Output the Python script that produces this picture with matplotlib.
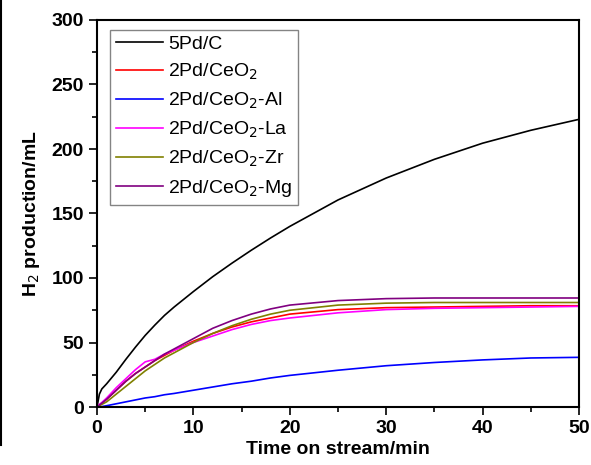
import matplotlib.pyplot as plt
import numpy as np
from matplotlib.lines import Line2D
from matplotlib.ticker import MultipleLocator

plt.rcParams['font.family'] = ['Liberation Sans', 'DejaVu Sans']

t = np.array([0, 0.25, 0.5, 1, 2, 3, 4, 5, 6, 7, 8, 10, 12, 14, 16, 18, 20,
              25, 30, 35, 40, 45, 50])

pd_c = np.array([0, 10, 14, 18, 27, 37, 46.5, 55.5, 63.5, 71, 77.5, 89.5, 101,
                 111.5, 121.5, 131, 140, 160.5, 177.5, 192, 204.5, 214.5, 223])
pd_ceo2 = np.array([0, 1.5, 3, 6, 13, 20, 26, 31, 36, 40, 44, 51, 57, 62,
                    66, 69, 72, 75.5, 77, 77.5, 78, 78.5, 78.5])
pd_ceo2_al = np.array([0, 0, 0.3, 1, 2.5, 4, 5.5, 7, 8, 9.5, 10.5, 13, 15.5,
                       18, 20, 22.5, 24.5, 28.5, 32, 34.5, 36.5, 38, 38.5])
pd_ceo2_la = np.array([0, 2, 3.5, 7, 15, 22, 29, 35, 37, 41, 44, 50, 55, 60,
                       64, 67, 69, 73, 75.5, 76.5, 77, 77.5, 78])
pd_ceo2_zr = np.array([0, 1, 2, 4, 10, 16, 22, 28, 33, 38, 42, 50, 57, 63,
                       68, 72, 75, 79, 80.5, 81, 81, 81, 81])
pd_ceo2_mg = np.array([0, 1.5, 3, 6, 13, 20, 26, 31, 36, 41, 45, 53, 61, 67,
                       72, 76, 79, 82.5, 84, 84.5, 84.5, 84.5, 84.5])

series = [
    (pd_c, 'black', '5Pd/C'),
    (pd_ceo2, 'red', '2Pd/CeO$_2$'),
    (pd_ceo2_al, 'blue', '2Pd/CeO$_2$-Al'),
    (pd_ceo2_la, 'magenta', '2Pd/CeO$_2$-La'),
    (pd_ceo2_zr, '#808000', '2Pd/CeO$_2$-Zr'),
    (pd_ceo2_mg, '#800080', '2Pd/CeO$_2$-Mg'),
]

fig = plt.figure(figsize=(5.91, 4.65), dpi=100)
ax = fig.add_axes([97 / 591, 58 / 465, 482 / 591, 387 / 465])

for y, c, lab in series:
    ax.plot(t, y, color=c, lw=1.2, label=lab)

ax.set_xlim(0, 50)
ax.set_ylim(0, 300)
ax.xaxis.set_major_locator(MultipleLocator(10))
ax.xaxis.set_minor_locator(MultipleLocator(5))
ax.yaxis.set_major_locator(MultipleLocator(50))
ax.yaxis.set_minor_locator(MultipleLocator(25))
ax.tick_params(which='both', direction='out', top=False, right=False,
               width=1.2, labelsize=14)
ax.tick_params(which='major', length=6)
ax.tick_params(which='minor', length=3.5)
for lbl in ax.get_xticklabels() + ax.get_yticklabels():
    lbl.set_fontweight('bold')
for sp in ax.spines.values():
    sp.set_linewidth(1.5)

ax.set_xlabel('Time on stream/min', fontsize=14, fontweight='bold', labelpad=3)
ax.set_ylabel('H$_2$ production/mL', fontsize=14, fontweight='bold', labelpad=7)

leg = ax.legend(loc='upper left', bbox_to_anchor=(0.027, 0.975), fontsize=14,
                frameon=True, fancybox=False, edgecolor='#666666',
                handlelength=2.4, handletextpad=0.3, labelspacing=0.45,
                borderpad=0.3, borderaxespad=0)
leg.get_frame().set_linewidth(1.0)

# thin rule along the left edge
fig.add_artist(Line2D([1.5 / 591, 1.5 / 591], [20 / 465, 1], color='black', lw=1.5))

fig.savefig('out.png', dpi=100)
